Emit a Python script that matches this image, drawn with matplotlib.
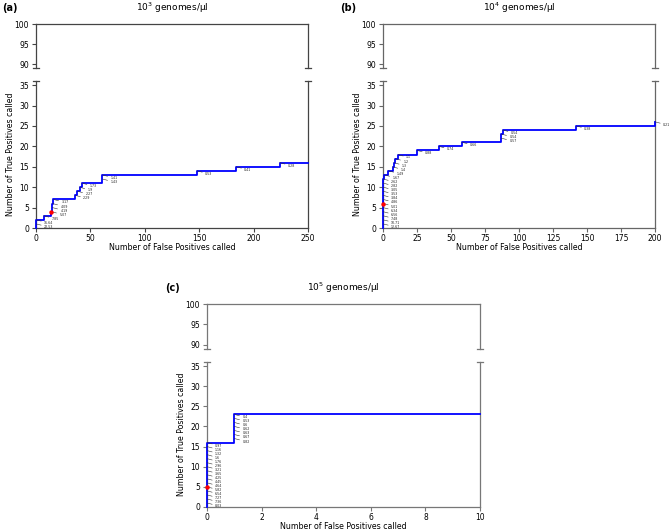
import matplotlib
matplotlib.use("Agg")
import matplotlib.pyplot as plt

W, H = 672, 531

# ---------------- data ----------------
fp_a = [0, 0, 7, 14, 15, 15, 16, 36, 38, 40, 42, 61, 61, 148, 184, 224]
tp_a = [1, 2, 3, 4, 5, 6, 7, 8, 9, 10, 11, 12, 13, 14, 15, 16]
thr_a = ['22.53', '16.64', '7.85', '5.07', '4.19', '4.09', '3.17', '2.29', '2.27',
         '1.9', '1.73', '1.43', '1.41', '0.53', '0.41', '0.28']
red_a = 3

fp_b = [0, 0, 0, 0, 0, 0, 0, 0, 0, 0, 0, 0, 1, 4, 7, 8, 9, 11, 25, 41, 58, 87, 87, 88, 142, 200]
tp_b = [1, 2, 3, 4, 5, 6, 7, 8, 9, 10, 11, 12, 13, 14, 15, 16, 17, 18, 19, 20, 21, 22, 23, 24, 25, 26]
thr_b = ['12.67', '10.71', '7.48', '6.56', '6.34', '5.01', '4.86', '3.84', '3.53', '3.05',
         '2.82', '2.62', '1.67', '1.49', '1.4', '1.3', '1.2', '1.1', '0.88', '0.74', '0.66',
         '0.57', '0.54', '0.54', '0.38', '0.21']
red_b = 5

fp_c = [0] * 16 + [1, 1, 1, 1, 1, 1, 1]
tp_c = [1, 2, 3, 4, 5, 6, 7, 8, 9, 10, 11, 12, 13, 14, 15, 16, 17, 18, 19, 20, 21, 22, 23]
thr_c = ['8.03', '7.36', '7.27', '6.54', '5.82', '4.64', '4.45', '4.25', '3.65', '3.21',
         '2.96', '1.76', '1.6', '1.32', '1.16', '0.97', '0.82', '0.67', '0.63', '0.62',
         '0.6', '0.53', '0.4']
red_c = 4

titles = [r'10$^{3}$ genomes/μl', r'10$^{4}$ genomes/μl', r'10$^{5}$ genomes/μl']
letters = ['(a)', '(b)', '(c)']
xmax = [250, 200, 10]
xticks = [[0, 50, 100, 150, 200, 250], [0, 25, 50, 75, 100, 125, 150, 175, 200], [0, 2, 4, 6, 8, 10]]

# ---------------- layout ----------------
def rect(l, t, r, b):
    return [l / W, 1 - b / H, (r - l) / W, (b - t) / H]

panels = [
    dict(x0=36, x1=308, tt=24, tb=68, bt=81, bb=228, lx=2, ly=8, spc='#444444'),
    dict(x0=383, x1=655, tt=24, tb=68, bt=81, bb=228, lx=340, ly=8, spc='#666666'),
    dict(x0=207, x1=480, tt=304, tb=349, bt=362, bb=507, lx=165, ly=288, spc='#777777'),
]
datasets = [(fp_a, tp_a, thr_a, red_a), (fp_b, tp_b, thr_b, red_b), (fp_c, tp_c, thr_c, red_c)]

fig = plt.figure(figsize=(W / 100, H / 100), dpi=100)

for i, (p, (fp, tp, thr, red)) in enumerate(zip(panels, datasets)):
    spc = p['spc']
    axt = fig.add_axes(rect(p['x0'], p['tt'], p['x1'], p['tb']))
    axb = fig.add_axes(rect(p['x0'], p['bt'], p['x1'], p['bb']))
    for ax in (axt, axb):
        for s in ax.spines.values():
            s.set_color(spc)
            s.set_linewidth(0.9)
        ax.tick_params(axis='both', labelsize=5.5, length=3, width=0.8, color=spc, pad=2)
        ax.set_xlim(0, xmax[i])
    axt.set_ylim(89, 100)
    axt.set_yticks([90, 95, 100])
    axt.spines['bottom'].set_visible(False)
    axt.set_xticks([])
    axb.set_ylim(0, 36)
    axb.set_yticks([0, 5, 10, 15, 20, 25, 30, 35])
    axb.spines['top'].set_visible(False)
    axb.set_xticks(xticks[i])
    axb.tick_params(axis='x', pad=1.5)
    axb.set_xlabel('Number of False Positives called', fontsize=5.7, labelpad=0)
    axb.set_ylabel('Number of True Positives called', fontsize=5.7, labelpad=3)

    # break marks
    d = 0.012
    for xx in (0, 1):
        axt.plot([xx - d, xx + d], [0, 0], transform=axt.transAxes, color=spc, lw=0.9, clip_on=False)
        axb.plot([xx - d, xx + d], [1, 1], transform=axb.transAxes, color=spc, lw=0.9, clip_on=False)

    # step curve
    xs = [0] + list(fp)
    ys = [0] + list(tp)
    if fp[-1] < xmax[i]:
        xs = xs + [xmax[i]]
        ys = ys + [tp[-1]]
    axb.step(xs, ys, where='post', color='#0000ff', lw=1.3, clip_on=False, zorder=3)

    # annotations
    for x, y, t in zip(fp, tp, thr):
        axb.annotate(t, xy=(x, y), xytext=(8, -3), textcoords='offset pixels',
                     fontsize=2.3, ha='left', va='center', color='#222222',
                     arrowprops=dict(arrowstyle='-', lw=0.4, color='#333333',
                                     shrinkA=0, shrinkB=0),
                     annotation_clip=False, zorder=4)
    axb.plot([fp[red]], [tp[red]], 'o', color='red', ms=2.2, zorder=5, clip_on=False)

    # titles
    cx = (p['x0'] + p['x1']) / 2 / W
    fig.text(cx, 1 - p['ly'] / H, titles[i], fontsize=6.5, ha='center', va='center')
    fig.text(p['lx'] / W, 1 - p['ly'] / H, letters[i], fontsize=7, fontweight='bold',
             ha='left', va='center')

fig.savefig('out.png', dpi=100)
